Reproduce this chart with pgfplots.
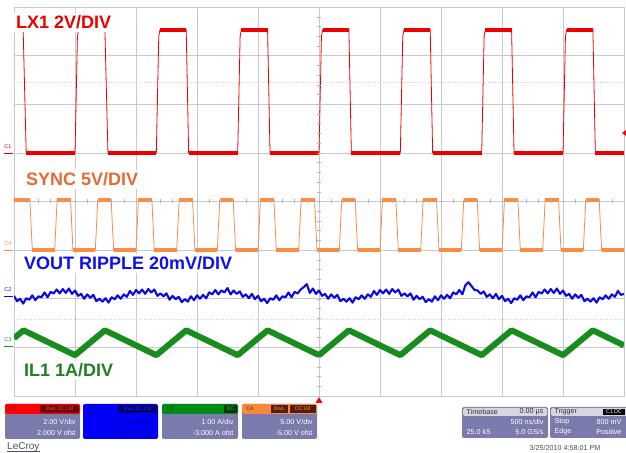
\documentclass[border=0pt]{standalone}
\usepackage{fontspec}
\setmainfont{Liberation Sans}
\usepackage{pgfplots}
\pgfplotsset{compat=1.18}
\definecolor{lxred}{RGB}{238,0,0}
\definecolor{syncor}{RGB}{250,140,70}
\definecolor{synclab}{RGB}{228,108,52}
\definecolor{vblue}{RGB}{10,10,225}
\definecolor{vlab}{RGB}{15,15,240}
\definecolor{ilgreen}{RGB}{25,140,30}
\definecolor{illab}{RGB}{30,130,35}
\definecolor{gridc}{RGB}{200,200,208}
\definecolor{panel}{RGB}{122,122,172}
\definecolor{hdrgray}{RGB}{214,214,222}
\definecolor{maroon}{RGB}{110,0,0}
\definecolor{lightred}{RGB}{235,70,70}
\definecolor{c2box}{RGB}{0,0,250}
\definecolor{c2dark}{RGB}{0,0,110}
\definecolor{c2text}{RGB}{0,0,160}
\definecolor{c2light}{RGB}{40,40,230}
\definecolor{c3hdr}{RGB}{0,140,20}
\definecolor{c3dark}{RGB}{0,55,0}
\definecolor{c3text}{RGB}{0,70,0}
\definecolor{c3light}{RGB}{60,200,60}
\definecolor{c4hdr}{RGB}{250,135,60}
\definecolor{c4dark}{RGB}{80,30,10}
\definecolor{c4text}{RGB}{90,35,10}
\definecolor{lcgray}{RGB}{80,80,95}
\newcommand\labfont{\fontsize{18bp}{20bp}\selectfont\bfseries}
\newcommand\pfont{\fontsize{7.2bp}{8bp}\selectfont}
\newcommand\tfont{\fontsize{5.5bp}{6bp}\selectfont}
\begin{document}
\begin{tikzpicture}[x=1bp,y=1bp]
\useasboundingbox (0,0) rectangle (626,453);
\begin{axis}[at={(14bp,57bp)}, anchor=south west, scale only axis,
  width=610bp, height=389bp, xmin=0, xmax=10, ymin=-4, ymax=4,
  xtick={0,...,10}, ytick={-4,...,4}, xticklabels={}, yticklabels={},
  major tick length=0pt, grid=major,
  major grid style={gridc, line width=0.5bp},
  axis line style={gridc, line width=0.6bp},
  unbounded coords=jump, clip=true]
% faint dotted rows
\addplot[gray!35, dotted, line width=0.5bp] coordinates {(0,2.45) (10,2.45)};
\addplot[gray!35, dotted, line width=0.5bp] coordinates {(0,-2.42) (10,-2.42)};
% LX1 (red) thin trace
\addplot[lxred, line width=0.8bp] coordinates {
(0,3.53) (0.15,3.53) (0.2,1)
(1.0,1) (1.04,3.4) (1.06,3.53) (1.49,3.53) (1.54,1)
(2.333,1) (2.373,3.4) (2.393,3.53) (2.823,3.53) (2.863,1)
(3.667,1) (3.707,3.4) (3.727,3.53) (4.157,3.53) (4.197,1)
(5.0,1) (5.04,3.4) (5.06,3.53) (5.49,3.53) (5.53,1)
(6.333,1) (6.373,3.4) (6.393,3.53) (6.823,3.53) (6.863,1)
(7.667,1) (7.707,3.4) (7.727,3.53) (8.157,3.53) (8.197,1)
(9.0,1) (9.04,3.4) (9.06,3.53) (9.49,3.53) (9.53,1) (10,1)};
% LX1 noisy plateaus
\addplot[lxred, line width=4bp, line cap=butt] coordinates {
(0,3.53) (0.15,3.53) (nan,nan) (1.06,3.53) (1.49,3.53) (nan,nan)
(2.393,3.53) (2.823,3.53) (nan,nan) (3.727,3.53) (4.157,3.53) (nan,nan)
(5.06,3.53) (5.49,3.53) (nan,nan) (6.393,3.53) (6.823,3.53) (nan,nan)
(7.727,3.53) (8.157,3.53) (nan,nan) (9.06,3.53) (9.49,3.53) (nan,nan)
(0.2,1) (1.0,1) (nan,nan) (1.54,1) (2.333,1) (nan,nan)
(2.863,1) (3.667,1) (nan,nan) (4.197,1) (5.0,1) (nan,nan)
(5.53,1) (6.333,1) (nan,nan) (6.863,1) (7.667,1) (nan,nan)
(8.197,1) (9.0,1) (nan,nan) (9.53,1) (10,1)};
% SYNC (orange) thin trace
\addplot[syncor, line width=0.8bp] coordinates {
(0,0.03) (0.26,0.03) (0.30,-1) (0.667,-1) (0.707,0.03) (0.927,0.03) (0.967,-1)
(1.333,-1) (1.373,0.03) (1.593,0.03) (1.633,-1) (2.0,-1) (2.04,0.03) (2.26,0.03) (2.30,-1)
(2.667,-1) (2.707,0.03) (2.927,0.03) (2.967,-1) (3.333,-1) (3.373,0.03) (3.593,0.03) (3.633,-1)
(4.0,-1) (4.04,0.03) (4.26,0.03) (4.30,-1) (4.667,-1) (4.707,0.03) (4.927,0.03) (4.967,-1)
(5.333,-1) (5.373,0.03) (5.593,0.03) (5.633,-1) (6.0,-1) (6.04,0.03) (6.26,0.03) (6.30,-1)
(6.667,-1) (6.707,0.03) (6.927,0.03) (6.967,-1) (7.333,-1) (7.373,0.03) (7.593,0.03) (7.633,-1)
(8.0,-1) (8.04,0.03) (8.26,0.03) (8.30,-1) (8.667,-1) (8.707,0.03) (8.927,0.03) (8.967,-1)
(9.333,-1) (9.373,0.03) (9.593,0.03) (9.633,-1) (10,-1)};
% SYNC noisy plateaus
\addplot[syncor, line width=3.6bp, line cap=butt] coordinates {
(0,0.03) (0.26,0.03) (nan,nan) (0.707,0.03) (0.927,0.03) (nan,nan)
(1.373,0.03) (1.593,0.03) (nan,nan) (2.04,0.03) (2.26,0.03) (nan,nan)
(2.707,0.03) (2.927,0.03) (nan,nan) (3.373,0.03) (3.593,0.03) (nan,nan)
(4.04,0.03) (4.26,0.03) (nan,nan) (4.707,0.03) (4.927,0.03) (nan,nan)
(5.373,0.03) (5.593,0.03) (nan,nan) (6.04,0.03) (6.26,0.03) (nan,nan)
(6.707,0.03) (6.927,0.03) (nan,nan) (7.373,0.03) (7.593,0.03) (nan,nan)
(8.04,0.03) (8.26,0.03) (nan,nan) (8.707,0.03) (8.927,0.03) (nan,nan)
(9.373,0.03) (9.593,0.03) (nan,nan)
(0.30,-1) (0.667,-1) (nan,nan) (0.967,-1) (1.333,-1) (nan,nan)
(1.633,-1) (2.0,-1) (nan,nan) (2.30,-1) (2.667,-1) (nan,nan)
(2.967,-1) (3.333,-1) (nan,nan) (3.633,-1) (4.0,-1) (nan,nan)
(4.30,-1) (4.667,-1) (nan,nan) (4.967,-1) (5.333,-1) (nan,nan)
(5.633,-1) (6.0,-1) (nan,nan) (6.30,-1) (6.667,-1) (nan,nan)
(6.967,-1) (7.333,-1) (nan,nan) (7.633,-1) (8.0,-1) (nan,nan)
(8.30,-1) (8.667,-1) (nan,nan) (8.967,-1) (9.333,-1) (nan,nan)
(9.633,-1) (10,-1)};
% VOUT ripple (blue)
\addplot[vblue, line width=2.1bp, line join=round] table {
x y
0.00 -1.94
0.05 -2.05
0.10 -2.00
0.15 -2.10
0.20 -1.99
0.25 -2.02
0.30 -1.93
0.35 -2.03
0.40 -1.95
0.45 -1.97
0.50 -1.87
0.55 -1.97
0.60 -1.86
0.65 -1.89
0.70 -1.81
0.75 -1.89
0.80 -1.80
0.85 -1.88
0.90 -1.79
0.95 -1.90
1.00 -1.83
1.05 -1.94
1.10 -1.90
1.15 -2.00
1.20 -1.91
1.25 -1.98
1.30 -1.92
1.35 -2.05
1.40 -2.00
1.45 -2.06
1.50 -1.99
1.55 -2.08
1.60 -1.97
1.65 -2.01
1.70 -1.93
1.75 -2.00
1.80 -1.91
1.85 -1.96
1.90 -1.84
1.95 -1.92
2.00 -1.82
2.05 -1.89
2.10 -1.81
2.15 -1.90
2.20 -1.80
2.25 -1.87
2.30 -1.81
2.35 -1.94
2.40 -1.89
2.45 -1.95
2.50 -1.89
2.55 -2.02
2.60 -1.94
2.65 -2.01
2.70 -1.96
2.75 -2.07
2.80 -2.01
2.85 -2.06
2.90 -1.95
2.95 -2.03
3.00 -1.93
3.05 -2.00
3.10 -1.92
3.15 -1.99
3.20 -1.87
3.25 -1.91
3.30 -1.82
3.35 -1.91
3.40 -1.83
3.45 -1.87
3.50 -1.78
3.55 -1.91
3.60 -1.83
3.65 -1.90
3.70 -1.85
3.75 -1.96
3.80 -1.91
3.85 -1.99
3.90 -1.90
3.95 -2.01
4.00 -1.94
4.05 -2.05
4.10 -2.00
4.15 -2.09
4.20 -1.99
4.25 -2.02
4.30 -1.93
4.35 -2.03
4.40 -1.95
4.45 -1.97
4.50 -1.87
4.55 -1.97
4.60 -1.86
4.65 -1.89
4.70 -1.81
4.75 -1.76
4.80 -1.70
4.85 -1.88
4.90 -1.79
4.95 -1.90
5.00 -1.83
5.05 -1.94
5.10 -1.90
5.15 -2.00
5.20 -1.91
5.25 -1.98
5.30 -1.92
5.35 -2.05
5.40 -2.00
5.45 -2.06
5.50 -1.99
5.55 -2.08
5.60 -1.97
5.65 -2.01
5.70 -1.93
5.75 -2.00
5.80 -1.91
5.85 -1.96
5.90 -1.84
5.95 -1.92
6.00 -1.82
6.05 -1.89
6.10 -1.81
6.15 -1.90
6.20 -1.80
6.25 -1.87
6.30 -1.81
6.35 -1.94
6.40 -1.89
6.45 -1.95
6.50 -1.89
6.55 -2.02
6.60 -1.94
6.65 -2.01
6.70 -1.96
6.75 -2.07
6.80 -2.01
6.85 -2.06
6.90 -1.95
6.95 -2.03
7.00 -1.93
7.05 -2.00
7.10 -1.92
7.15 -1.99
7.20 -1.87
7.25 -1.91
7.30 -1.82
7.35 -1.91
7.40 -1.72
7.45 -1.66
7.50 -1.74
7.55 -1.82
7.60 -1.83
7.65 -1.90
7.70 -1.85
7.75 -1.96
7.80 -1.91
7.85 -1.99
7.90 -1.90
7.95 -2.01
8.00 -1.94
8.05 -2.05
8.10 -2.00
8.15 -2.09
8.20 -1.99
8.25 -2.02
8.30 -1.93
8.35 -2.03
8.40 -1.95
8.45 -1.97
8.50 -1.87
8.55 -1.97
8.60 -1.86
8.65 -1.89
8.70 -1.81
8.75 -1.89
8.80 -1.80
8.85 -1.88
8.90 -1.79
8.95 -1.90
9.00 -1.83
9.05 -1.94
9.10 -1.90
9.15 -2.00
9.20 -1.91
9.25 -1.98
9.30 -1.92
9.35 -2.05
9.40 -2.00
9.45 -2.06
9.50 -1.99
9.55 -2.08
9.60 -1.97
9.65 -2.01
9.70 -1.93
9.75 -2.00
9.80 -1.91
9.85 -1.96
9.90 -1.84
9.95 -1.92
10.00 -1.90
};
% IL1 (green)
\addplot[ilgreen, line width=6bp, line join=round] coordinates {
(0,-2.81) (0.157,-2.65) (1.0,-3.16) (1.49,-2.65) (2.333,-3.16) (2.823,-2.65)
(3.667,-3.16) (4.157,-2.65) (5.0,-3.16) (5.49,-2.65) (6.333,-3.16) (6.823,-2.65)
(7.667,-3.16) (8.157,-2.65) (9.0,-3.16) (9.49,-2.65) (10,-2.96)};
\end{axis}
% centre-line ticks
\foreach \i in {1,...,49} {\draw[gridc!70!gray, line width=0.4bp] (14+\i*12.2,249.5) -- (14+\i*12.2,253.5);}
\foreach \j in {1,...,39} {\draw[gridc!70!gray, line width=0.4bp] (317,57+\j*9.725) -- (321,57+\j*9.725);}
% trace labels
\node[anchor=base west, fill=white, inner xsep=3bp, inner ysep=2.5bp, text=lxred, font=\labfont] at (13,424) {LX1 2V/DIV};
\node[anchor=base west, fill=white, inner xsep=3bp, inner ysep=2.5bp, text=synclab, font=\labfont] at (23,267) {SYNC 5V/DIV};
\node[anchor=base west, fill=white, inner xsep=3bp, inner ysep=2.5bp, text=vlab, font=\labfont] at (21,183) {VOUT RIPPLE 20mV/DIV};
\node[anchor=base west, fill=white, inner xsep=3bp, inner ysep=2.5bp, text=illab, font=\labfont] at (21,76) {IL1 1A/DIV};
% channel markers
\node[text=lxred, font=\tfont, anchor=south] at (8,301) {C1};
\draw[lxred, line width=0.5bp] (4,300) -- (13,300);
\node[text=syncor, font=\tfont, anchor=south] at (8,204) {C4};
\draw[syncor, line width=0.5bp] (4,203) -- (13,203);
\node[text=vblue, font=\tfont, anchor=south] at (8,158) {C2};
\draw[vblue, line width=0.5bp] (4,157) -- (13,157);
\node[text=ilgreen, font=\tfont, anchor=south] at (8,108) {C3};
\draw[ilgreen, line width=0.5bp] (4,107) -- (13,107);
% trigger markers
\fill[red] (315.5,50) -- (322.5,50) -- (319,56) -- cycle;
\fill[red] (626,317) -- (626,323) -- (622,320) -- cycle;
% C1
\fill[panel, rounded corners=2bp] (5,14) rectangle (80,49);
\fill[red, rounded corners=1.5bp] (5,39) rectangle (80,49);
\fill[maroon] (40,40) rectangle (79,48);
\node[anchor=west, font=\tfont, text=maroon] at (6,44) {C1};
\node[anchor=center, font=\tfont, text=lightred] at (59.5,44) {BwL\,DC1M};
\node[anchor=east, font=\pfont, text=white] at (79,31) {2.00 V/div};
\node[anchor=east, font=\pfont, text=white] at (79,20) {2.000 V ofst};
% C2
\fill[c2box, rounded corners=2bp] (83,14) rectangle (158,49);
\fill[c2dark] (118,40) rectangle (157,48);
\node[anchor=west, font=\tfont, text=c2dark] at (84,44) {C2};
\node[anchor=center, font=\tfont, text=c2light] at (137.5,44) {BwL\,DC1M};
\node[anchor=east, font=\pfont, text=c2text] at (157,31) {20.0 mV/div};
\node[anchor=east, font=\pfont, text=c2text] at (157,20) {-1.800 V ofst};
% C3
\fill[panel, rounded corners=2bp] (162,14) rectangle (238,49);
\fill[c3hdr, rounded corners=1.5bp] (162,39) rectangle (238,49);
\fill[c3dark] (224,40) rectangle (237,48);
\node[anchor=west, font=\tfont, text=c3text] at (163,44) {C3};
\node[anchor=center, font=\tfont, text=c3light] at (230.5,44) {DC};
\node[anchor=east, font=\pfont, text=white] at (237,31) {1.00 A/div};
\node[anchor=east, font=\pfont, text=white] at (237,20) {-3.000 A ofst};
% C4
\fill[panel, rounded corners=2bp] (242,14) rectangle (317,49);
\fill[c4hdr, rounded corners=1.5bp] (242,39) rectangle (317,49);
\fill[c4dark] (271,40) rectangle (288,48);
\fill[c4dark] (290,40) rectangle (316,48);
\node[anchor=west, font=\tfont, text=c4text] at (243,44) {C4};
\node[anchor=center, font=\tfont, text=syncor] at (279.5,44) {BwL};
\node[anchor=center, font=\tfont, text=syncor] at (303,44) {DC1M};
\node[anchor=east, font=\pfont, text=white] at (316,31) {5.00 V/div};
\node[anchor=east, font=\pfont, text=white] at (316,20) {-5.00 V ofst};
% Timebase
\fill[panel, rounded corners=2bp] (462,15) rectangle (548,46);
\fill[hdrgray, rounded corners=1.5bp] (463,37) rectangle (547,45);
\node[anchor=west, font=\pfont, text=black!80] at (463,41) {Timebase};
\node[anchor=east, font=\pfont, text=black!80] at (547,41) {0.00 µs};
\node[anchor=east, font=\pfont, text=white] at (547,31) {500 ns/div};
\node[anchor=west, font=\pfont, text=white] at (463,21) {25.0 kS};
\node[anchor=east, font=\pfont, text=white] at (547,21) {5.0 GS/s};
% Trigger
\fill[panel, rounded corners=2bp] (550,15) rectangle (632,46);
\fill[hdrgray, rounded corners=1.5bp] (551,37) rectangle (631,45);
\fill[black] (603,38) rectangle (625,44);
\node[anchor=west, font=\pfont, text=black!80] at (551,41) {Trigger};
\node[anchor=center, font=\tfont, text=white] at (614,41) {C1\,DC};
\node[anchor=west, font=\pfont, text=white] at (551,31) {Stop};
\node[anchor=east, font=\pfont, text=white] at (625,31) {800 mV};
\node[anchor=west, font=\pfont, text=white] at (551,21) {Edge};
\node[anchor=east, font=\pfont, text=white] at (625,21) {Positive};
% footer
\node[anchor=east, font=\pfont, text=black!70] at (604,5.5) {3/25/2010 4:58:01 PM};
\node[anchor=west, font=\fontsize{10bp}{11bp}\selectfont, text=lcgray, inner sep=0pt] (lc) at (7,6) {LeCroy};
\draw[lcgray, line width=0.6bp] (lc.south west) -- (lc.south east);
\end{tikzpicture}
\end{document}
